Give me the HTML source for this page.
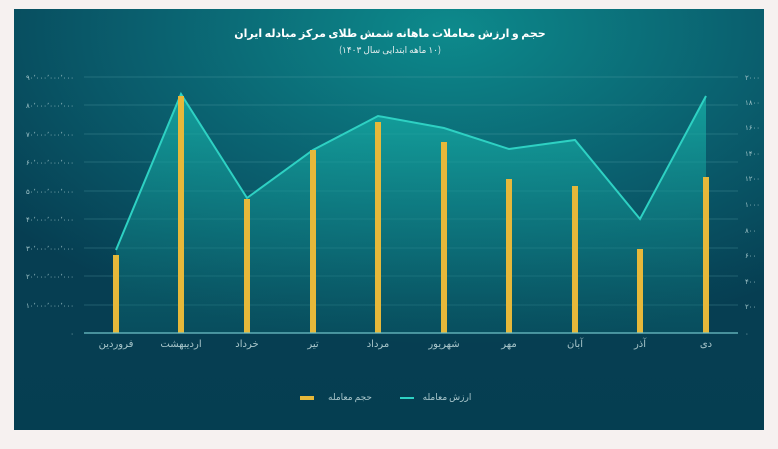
<!DOCTYPE html>
<html><head><meta charset="utf-8"><style>
body{margin:0;background:#f6f1f0;width:778px;height:444px;overflow:hidden;font-family:"Liberation Sans","Noto Sans CJK SC",sans-serif}
</style></head><body>
<svg width="778" height="444" viewBox="0 0 778 444" xmlns="http://www.w3.org/2000/svg">
<defs>
<radialGradient id="bg" cx="0.58" cy="0.05" r="0.75">
<stop offset="0" stop-color="#0d8a8c"/>
<stop offset="0.55" stop-color="#0a5f6e"/>
<stop offset="1" stop-color="#063e52"/>
</radialGradient>
<linearGradient id="bot" x1="0" y1="0" x2="0" y2="1">
<stop offset="0" stop-color="#063f52" stop-opacity="0"/>
<stop offset="1" stop-color="#053e51" stop-opacity="1"/>
</linearGradient>
<linearGradient id="area" x1="0" y1="0" x2="0" y2="1">
<stop offset="0" stop-color="#17b3aa" stop-opacity="0.75"/>
<stop offset="1" stop-color="#0c6a74" stop-opacity="0.35"/>
</linearGradient>
</defs>
<rect x="14" y="9" width="750" height="421" fill="url(#bg)"/>
<rect x="14" y="250" width="750" height="180" fill="url(#bot)"/>
<g stroke="#5fa9b0" stroke-opacity="0.3" stroke-width="1">
<line x1="84" y1="77" x2="738" y2="77"/><line x1="84" y1="105" x2="738" y2="105"/><line x1="84" y1="134" x2="738" y2="134"/><line x1="84" y1="162" x2="738" y2="162"/><line x1="84" y1="191" x2="738" y2="191"/><line x1="84" y1="219" x2="738" y2="219"/><line x1="84" y1="248" x2="738" y2="248"/><line x1="84" y1="276" x2="738" y2="276"/><line x1="84" y1="305" x2="738" y2="305"/>
</g>
<polygon points="116,333 116,250 181,94 247,198 313,150 378,116 444,128 509,149 575,140 640,219 706,96 706,333" fill="url(#area)"/>
<polyline points="116,250 181,94 247,198 313,150 378,116 444,128 509,149 575,140 640,219 706,96" fill="none" stroke="#2ed1c3" stroke-width="2"/>
<g fill="#e6b83a">
<rect x="113" y="255" width="6" height="78"/><rect x="178" y="96" width="6" height="237"/><rect x="244" y="199" width="6" height="134"/><rect x="310" y="150" width="6" height="183"/><rect x="375" y="122" width="6" height="211"/><rect x="441" y="142" width="6" height="191"/><rect x="506" y="179" width="6" height="154"/><rect x="572" y="186" width="6" height="147"/><rect x="637" y="249" width="6" height="84"/><rect x="703" y="177" width="6" height="156"/>
</g>
<line x1="84" y1="333" x2="738" y2="333" stroke="#6fc2c8" stroke-width="1.2"/>
<g fill="#9fc3c8" font-size="7" text-anchor="end">
<text x="74" y="80">۹۰٬۰۰۰٬۰۰۰٬۰۰۰</text><text x="74" y="108">۸۰٬۰۰۰٬۰۰۰٬۰۰۰</text><text x="74" y="137">۷۰٬۰۰۰٬۰۰۰٬۰۰۰</text><text x="74" y="165">۶۰٬۰۰۰٬۰۰۰٬۰۰۰</text><text x="74" y="194">۵۰٬۰۰۰٬۰۰۰٬۰۰۰</text><text x="74" y="222">۴۰٬۰۰۰٬۰۰۰٬۰۰۰</text><text x="74" y="251">۳۰٬۰۰۰٬۰۰۰٬۰۰۰</text><text x="74" y="279">۲۰٬۰۰۰٬۰۰۰٬۰۰۰</text><text x="74" y="308">۱۰٬۰۰۰٬۰۰۰٬۰۰۰</text><text x="74" y="336">۰</text>
</g>
<g fill="#9fc3c8" font-size="7" text-anchor="start">
<text x="745" y="80">۲۰۰۰</text><text x="745" y="105">۱۸۰۰</text><text x="745" y="130">۱۶۰۰</text><text x="745" y="156">۱۴۰۰</text><text x="745" y="181">۱۲۰۰</text><text x="745" y="207">۱۰۰۰</text><text x="745" y="233">۸۰۰</text><text x="745" y="258">۶۰۰</text><text x="745" y="284">۴۰۰</text><text x="745" y="309">۲۰۰</text><text x="745" y="336">۰</text>
</g>
<g fill="#a9c6cb" font-size="10" text-anchor="middle" font-family="'Noto Sans CJK SC','DejaVu Sans',sans-serif">
<text x="116" y="347">فروردین</text><text x="181" y="347">اردیبهشت</text><text x="247" y="347">خرداد</text><text x="313" y="347">تیر</text><text x="378" y="347">مرداد</text><text x="444" y="347">شهریور</text><text x="509" y="347">مهر</text><text x="575" y="347">آبان</text><text x="640" y="347">آذر</text><text x="706" y="347">دی</text>
</g>
<text x="390" y="37" fill="#ffffff" font-size="11" font-weight="bold" text-anchor="middle" direction="rtl" font-family="'Noto Sans CJK SC','DejaVu Sans',sans-serif">حجم و ارزش معاملات ماهانه شمش طلای مرکز مبادله ایران</text>
<text x="390" y="53" fill="#e6eeee" font-size="9" text-anchor="middle" direction="rtl" font-family="'Noto Sans CJK SC','DejaVu Sans',sans-serif">(۱۰ ماهه ابتدایی سال ۱۴۰۳)</text>
<rect x="300" y="396" width="14" height="4" fill="#e6b83a"/>
<text x="350" y="400" fill="#a9c6cb" font-size="9" text-anchor="middle" font-family="'Noto Sans CJK SC','DejaVu Sans',sans-serif">حجم معامله</text>
<rect x="400" y="397" width="14" height="2" fill="#2ed1c3"/>
<text x="447" y="400" fill="#a9c6cb" font-size="9" text-anchor="middle" font-family="'Noto Sans CJK SC','DejaVu Sans',sans-serif">ارزش معامله</text>
</svg>
</body></html>
